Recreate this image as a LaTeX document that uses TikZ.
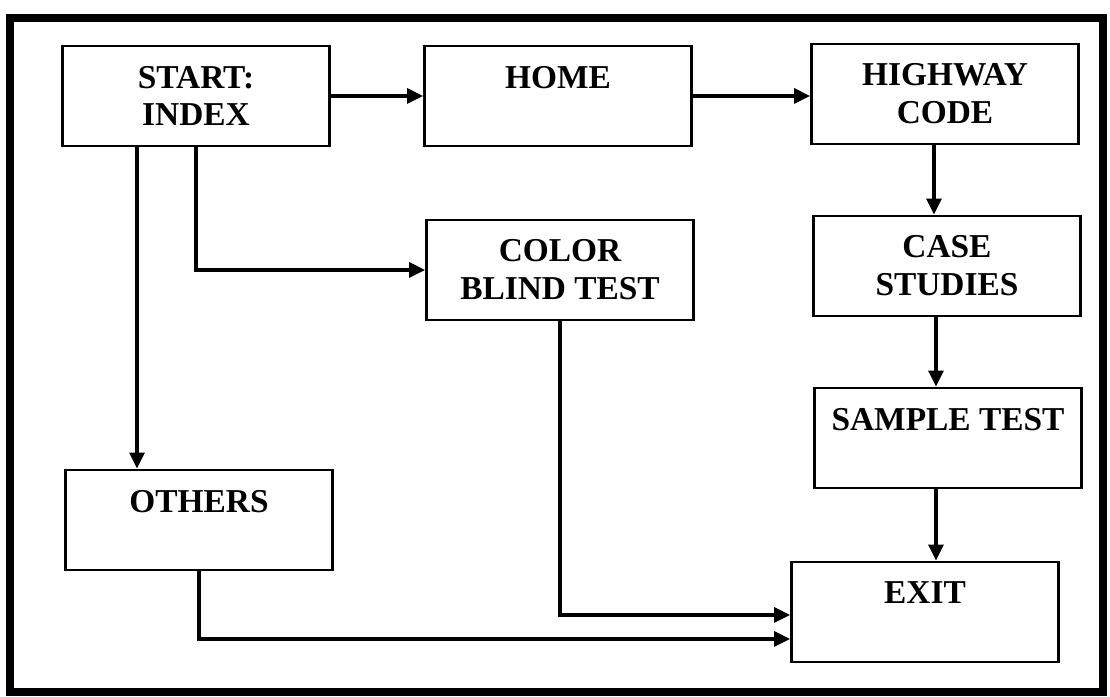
\documentclass[tikz,border=0pt]{standalone}
\usepackage{fontspec}
\setmainfont{Liberation Serif}
\usetikzlibrary{arrows.meta}

\begin{document}
\begin{tikzpicture}[
    box/.style={rectangle,draw,line width=0.8pt,minimum width=2.67cm,minimum height=1cm,inner sep=2pt,align=center,font=\fontsize{9.5}{10.8}\selectfont\bfseries},
    arr/.style={line width=0.9pt,-{Triangle[length=1.6mm,width=1.5mm]}}]

\useasboundingbox (0,0) rectangle (11.1,6.97);
\draw[line width=0.08cm] (0.105,0.05) rectangle (11.035,6.79);

\node[box] (start) at (1.96,6.01) {START:\\INDEX};
\node[box] (home) at (5.58,6.01) {HOME\\~};
\node[box] (highway) at (9.45,6.03) {HIGHWAY\\CODE};
\node[box] (color) at (5.6,4.27) {COLOR\\BLIND TEST};
\node[box] (case) at (9.47,4.31) {CASE\\STUDIES};
\node[box] (sample) at (9.48,2.59) {SAMPLE TEST\\~};
\node[box] (others) at (1.99,1.77) {OTHERS\\~};
\node[box] (exit) at (9.25,0.85) {EXIT\\~};

\draw[arr] (start) -- (home);
\draw[arr] (home.east) -- (home.east -| highway.west);
\draw[arr] ([xshift=-5.9mm]start.south) -- ([xshift=-5.9mm]start.south |- others.north);
\draw[arr] (start.south) |- (color.west);
\draw[arr] ([xshift=-1.1mm]highway.south) -- ([xshift=-1.1mm]highway.south |- case.north);
\draw[arr] ([xshift=-1.1mm]case.south) -- ([xshift=-1.1mm]case.south |- sample.north);
\draw[arr] ([xshift=-1.2mm]sample.south) -- ([xshift=-1.2mm]sample.south |- exit.north);
\draw[arr] (color.south) |- ([yshift=-0.3mm]exit.west);
\draw[arr] (others.south) |- ([yshift=-2.7mm]exit.west);
\end{tikzpicture}
\end{document}
